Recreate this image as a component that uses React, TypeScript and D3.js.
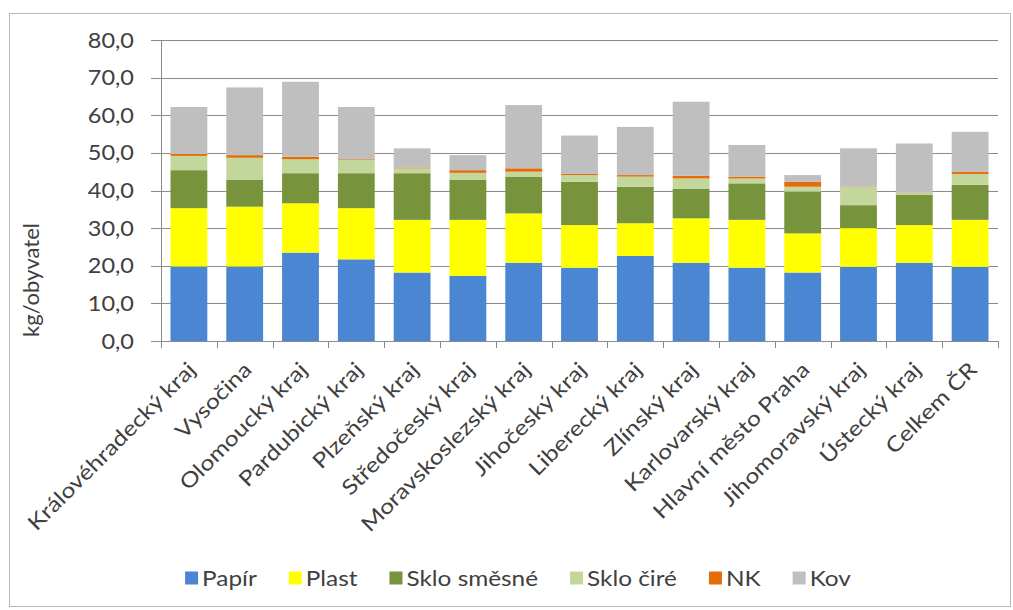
import React, { useEffect, useRef } from "react";
import * as d3 from "d3";

const categories = [
  "Královéhradecký kraj", "Vysočina", "Olomoucký kraj", "Pardubický kraj",
  "Plzeňský kraj", "Středočeský kraj", "Moravskoslezský kraj", "Jihočeský kraj",
  "Liberecký kraj", "Zlínský kraj", "Karlovarský kraj", "Hlavní město Praha",
  "Jihomoravský kraj", "Ústecký kraj", "Celkem ČR",
];
const papir = [19.8, 19.8, 23.5, 21.7, 18.2, 17.3, 20.8, 19.5, 22.6, 20.8, 19.5, 18.2, 19.7, 20.8, 19.7];
const plast = [15.5, 15.9, 13.1, 13.6, 14.0, 14.9, 13.1, 11.3, 8.7, 11.8, 12.7, 10.4, 10.3, 10.0, 12.5];
const skloSmesne = [10.1, 7.1, 8.0, 9.3, 12.4, 10.6, 9.8, 11.5, 9.7, 7.9, 9.7, 11.1, 6.1, 8.0, 9.3];
const skloCire = [3.8, 5.9, 3.7, 3.5, 1.3, 1.9, 1.3, 1.8, 2.7, 2.7, 1.3, 1.3, 4.9, 0.5, 2.9];
const nk = [0.5, 0.7, 0.7, 0.2, 0.2, 0.7, 0.9, 0.3, 0.4, 0.7, 0.5, 1.3, 0.1, 0.1, 0.6];
const kov = [12.5, 18.0, 19.9, 13.9, 5.1, 4.0, 16.8, 10.2, 12.8, 19.7, 8.4, 1.8, 10.1, 13.1, 10.6];

const seriesNames = ["Papír", "Plast", "Sklo směsné", "Sklo čiré", "NK", "Kov"];
const seriesValues = [papir, plast, skloSmesne, skloCire, nk, kov];
const seriesColors = ["#4A86D1", "#FFFF00", "#77933C", "#C3D69B", "#E46C0A", "#BFBFBF"];
const yTicks = [0, 10, 20, 30, 40, 50, 60, 70, 80];

const W = 1013;
const H = 610;
const FONT = "Lato, 'Open Sans', sans-serif";

export default function App() {
  const ref = useRef<SVGSVGElement | null>(null);

  useEffect(() => {
    document.body.style.margin = "0";
    const svg = d3.select(ref.current);
    svg.selectAll("*").remove();

    const x0 = 161, x1 = 998, yTop = 40, yBot = 341;
    const x = d3.scaleBand<string>().domain(categories).range([x0, x1]).paddingInner(0.34).paddingOuter(0.17);
    const y = d3.scaleLinear().domain([0, 80]).range([yBot, yTop]);

    // frame
    svg.append("rect").attr("x", 9.5).attr("y", 13.5).attr("width", 1001).attr("height", 593)
      .attr("fill", "#fff").attr("stroke", "#b8b8b8").attr("stroke-width", 1);

    // gridlines
    svg.append("g").selectAll("line").data(yTicks.filter((t) => t > 0)).join("line")
      .attr("x1", x0).attr("x2", x1)
      .attr("y1", (d) => Math.round(y(d)) + 0.5).attr("y2", (d) => Math.round(y(d)) + 0.5)
      .attr("stroke", "#8a8a8a").attr("stroke-width", 1);

    // stacked bars
    const table = categories.map((c, i) => {
      const row: any = { cat: c };
      seriesNames.forEach((s, k) => (row[s] = seriesValues[k][i]));
      return row;
    });
    const stacked = d3.stack<any>().keys(seriesNames)(table);
    const gBars = svg.append("g");
    stacked.forEach((layer, k) => {
      gBars.append("g").attr("fill", seriesColors[k]).selectAll("rect").data(layer).join("rect")
        .attr("x", (d: any) => x(d.data.cat)!)
        .attr("width", x.bandwidth())
        .attr("y", (d: any) => y(d[1]))
        .attr("height", (d: any) => Math.max(0, y(d[0]) - y(d[1])));
    });

    // y axis line & ticks
    svg.append("line").attr("x1", x0 + 0.5).attr("x2", x0 + 0.5).attr("y1", yTop).attr("y2", yBot)
      .attr("stroke", "#8a8a8a");
    svg.append("g").selectAll("line").data(yTicks).join("line")
      .attr("x1", x0 - 10).attr("x2", x0)
      .attr("y1", (d) => Math.round(y(d)) + 0.5).attr("y2", (d) => Math.round(y(d)) + 0.5)
      .attr("stroke", "#8a8a8a");
    svg.append("g").selectAll("text").data(yTicks).join("text")
      .attr("transform", (d) => `translate(134,${y(d)}) scale(1.12,1)`)
      .attr("text-anchor", "end").attr("dy", "0.36em")
      .attr("font-family", FONT).attr("font-size", 21).attr("fill", "#404040")
      .text((d) => d3.format(".1f")(d).replace(".", ","));

    // x axis line & ticks
    svg.append("line").attr("x1", x0).attr("x2", x1).attr("y1", yBot + 0.5).attr("y2", yBot + 0.5)
      .attr("stroke", "#8a8a8a");
    const step = x.step();
    const bounds = d3.range(categories.length + 1).map((i) => x0 + i * step);
    svg.append("g").selectAll("line").data(bounds).join("line")
      .attr("x1", (d) => Math.round(d) + 0.5).attr("x2", (d) => Math.round(d) + 0.5)
      .attr("y1", yBot).attr("y2", yBot + 7).attr("stroke", "#8a8a8a");

    // x labels
    svg.append("g").selectAll("text").data(categories).join("text")
      .attr("transform", (d) => `translate(${x(d)! + x.bandwidth() / 2 - 3},${yBot + 19}) rotate(-45) scale(1.18,1)`)
      .attr("text-anchor", "end").attr("dy", "0.75em")
      .attr("font-family", FONT).attr("font-size", 21).attr("fill", "#404040")
      .text((d) => d);

    // y title
    svg.append("text").attr("transform", "translate(31,280) rotate(-90)")
      .attr("text-anchor", "middle").attr("dy", "0.36em")
      .attr("font-family", FONT).attr("font-size", 22).attr("fill", "#404040")
      .text("kg/obyvatel");

    // legend
    const lg = svg.append("g");
    const sq = 13, gapSq = 4, gapItem = 32, fs = 21, sx = 1.16;
    const widths: number[] = [];
    const items = seriesNames.map((name, k) => {
      const g = lg.append("g");
      g.append("rect").attr("width", sq).attr("height", sq).attr("y", -sq / 2).attr("fill", seriesColors[k]);
      const t = g.append("text").attr("font-family", FONT).attr("font-size", fs).attr("fill", "#404040")
        .attr("dy", "0.36em").attr("transform", `translate(${sq + gapSq},0) scale(${sx},1)`).text(name);
      const w = (t.node() as SVGTextElement).getComputedTextLength() * sx;
      widths.push(sq + gapSq + w);
      return g;
    });
    const total = d3.sum(widths) + gapItem * (widths.length - 1);
    let cx = 518 - total / 2;
    items.forEach((g, k) => {
      g.attr("transform", `translate(${cx},578)`);
      cx += widths[k] + gapItem;
    });
  }, []);

  return <svg ref={ref} width={W} height={H} style={{ display: "block" }} />;
}
